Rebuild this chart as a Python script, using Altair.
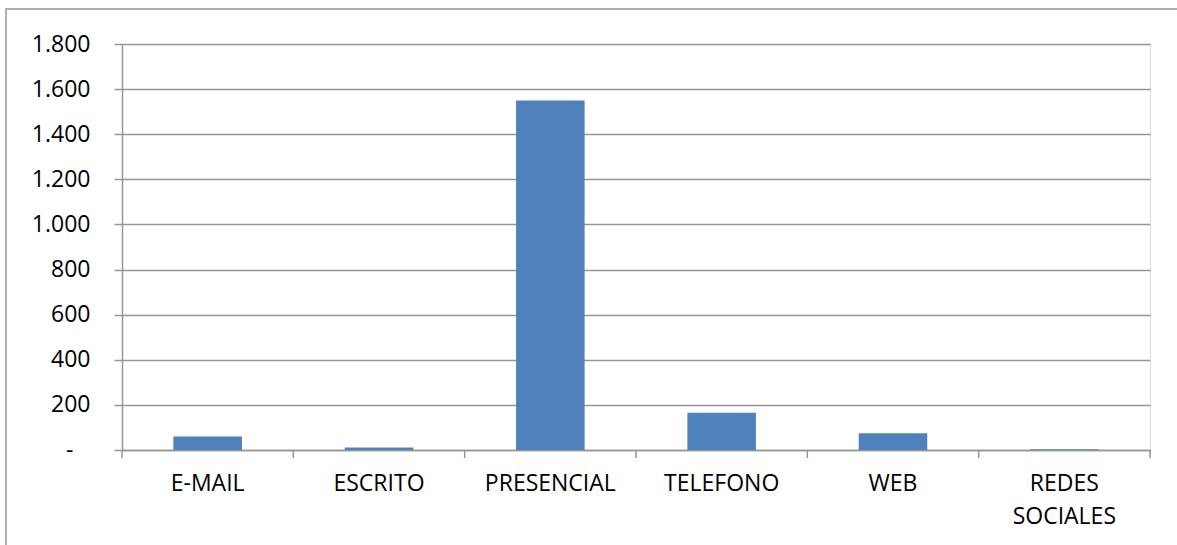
import altair as alt
import pandas as pd

categories = ["E-MAIL", "ESCRITO", "PRESENCIAL", "TELEFONO", "WEB", "REDES SOCIALES"]
values = [60, 11, 1550, 165, 74, 3]
y_ticks = [0, 200, 400, 600, 800, 1000, 1200, 1400, 1600, 1800]

df = pd.DataFrame({"canal": categories, "valor": values})
GRAY = "#969696"
FONT = "Open Sans"
FS = 23

W, H = 1028, 406
xscale = alt.Scale(domain=categories, paddingInner=0, paddingOuter=0)
yscale = alt.Scale(domain=[0, 1800], nice=False)

bars = alt.Chart(df).mark_bar(color="#4F81BD", width=alt.RelativeBandSize(0.4)).encode(
    x=alt.X("canal:N", sort=categories, scale=xscale,
            axis=alt.Axis(title=None, labelAngle=0, ticks=False, labelPadding=22,
                          labelFont=FONT, labelFontSize=FS, labelColor="#000000",
                          labelLineHeight=33, domainColor=GRAY, domainWidth=1.5,
                          labelExpr="datum.value == 'REDES SOCIALES' ? ['REDES', 'SOCIALES'] : datum.value")),
    y=alt.Y("valor:Q", scale=yscale,
            axis=alt.Axis(title=None, values=y_ticks, grid=True, gridColor=GRAY, gridWidth=1.5,
                          tickSize=8, tickColor=GRAY, tickWidth=1.5, domainColor=GRAY, domainWidth=1.5,
                          labelPadding=24, labelFont=FONT, labelFontSize=FS, labelColor="#000000",
                          labelExpr="datum.value == 0 ? '-\u2800' : replace(format(datum.value, ','), ',', '.')")),
)

# category boundary ticks below the x axis
ticks_left = alt.Chart(df).mark_rule(color=GRAY, strokeWidth=1.5).encode(
    x=alt.X("canal:N", sort=categories, scale=xscale, bandPosition=0),
    y=alt.value(H),
    y2=alt.value(H + 8),
)
ticks_right = alt.Chart(df[df["canal"] == categories[-1]]).mark_rule(color=GRAY, strokeWidth=1.5).encode(
    x=alt.X("canal:N", sort=categories, scale=xscale, bandPosition=1),
    y=alt.value(H),
    y2=alt.value(H + 8),
)

frame = alt.Chart(pd.DataFrame({"a": [0]})).mark_rect(filled=False, stroke=GRAY, strokeWidth=1.5).encode(
    x=alt.value(-116), x2=alt.value(1150), y=alt.value(-35), y2=alt.value(700)
)

chart = alt.layer(frame, bars, ticks_left, ticks_right).properties(
    width=W, height=H,
    autosize=alt.AutoSizeParams(type="none"),
    padding={"left": 122, "top": 44, "right": 27, "bottom": 95},
).configure_view(stroke=None).configure(background="white")

chart.save("out.html", embed_options={"renderer": "svg", "actions": False})
